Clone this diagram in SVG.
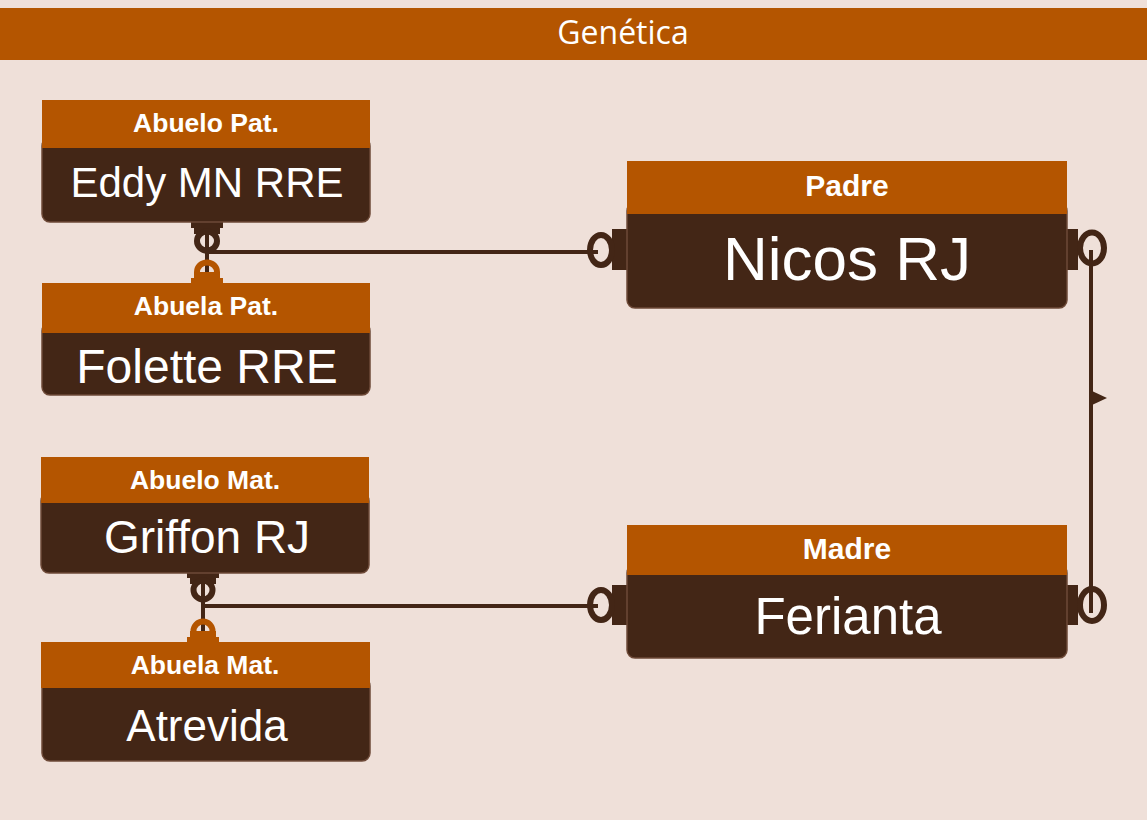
<svg xmlns="http://www.w3.org/2000/svg" width="1147" height="820" viewBox="0 0 1147 820">
<style>
.hdr{fill:#B45500}
.body{fill:#432616;stroke:#6e4a38;stroke-width:1.5}
.ht{font-family:"Liberation Sans",Arial,sans-serif;font-weight:bold;fill:#fff;text-anchor:middle}
.bt{font-family:"Liberation Sans",Arial,sans-serif;fill:#fff;text-anchor:middle}
.ln{stroke:#432616;stroke-width:4;fill:none}
.ring{fill:none;stroke:#432616;stroke-width:6}
.oring{fill:none;stroke:#B45500;stroke-width:6}
.tab{fill:#432616}
.otab{fill:#B45500}
</style>
<rect width="1147" height="820" fill="#EFE0D9"/>
<g id="title">
<rect x="0" y="8" width="1147" height="52" fill="#B45500"/>
<text x="623" y="44" font-family="'Open Sans','Noto Sans',sans-serif" font-size="32" fill="#fff" text-anchor="middle">Genética</text>
</g>
<g id="connectors">
<line class="ln" x1="207" y1="230" x2="207" y2="272"/>
<line class="ln" x1="207" y1="252" x2="598" y2="252"/>
<line class="ln" x1="203" y1="580" x2="203" y2="632"/>
<line class="ln" x1="203" y1="606" x2="598" y2="606"/>
<line class="ln" x1="1091" y1="250" x2="1091" y2="613"/>
<path d="M1092,391 L1107,398 L1092,405 Z" fill="#432616"/>
<!-- Eddy bottom -->
<path class="tab" d="M191,221 H223 V228 H220 V234 H194 V228 H191 Z"/>
<ellipse class="ring" cx="207" cy="241" rx="10" ry="9.5"/>
<!-- Folette top -->
<ellipse class="oring" cx="207" cy="272" rx="10" ry="9.5"/>
<path class="otab" d="M194,272 H220 V278 H223 V284 H191 V278 H194 Z"/>
<!-- Griffon bottom -->
<path class="tab" d="M187,572 H219 V578 H216 V584 H190 V578 H187 Z"/>
<ellipse class="ring" cx="203" cy="590" rx="9.5" ry="9.5"/>
<!-- Atrevida top -->
<ellipse class="oring" cx="203" cy="631" rx="9.5" ry="9.5"/>
<path class="otab" d="M190,631 H216 V637 H219 V643 H187 V637 H190 Z"/>
<!-- Padre left/right -->
<rect class="tab" x="612" y="229" width="16" height="41"/>
<ellipse class="ring" cx="601" cy="250" rx="11" ry="15"/>
<rect class="tab" x="1066" y="229" width="12" height="41"/>
<ellipse class="ring" cx="1092" cy="248" rx="12" ry="15.5"/>
<!-- Madre left/right -->
<rect class="tab" x="612" y="585" width="16" height="40"/>
<ellipse class="ring" cx="601" cy="605" rx="11" ry="15"/>
<rect class="tab" x="1066" y="585" width="12" height="40"/>
<ellipse class="ring" cx="1092" cy="605" rx="12" ry="16"/>
</g>
<g id="abuelo-pat">
<rect class="body" x="42" y="138" width="328" height="84" rx="8"/>
<rect class="hdr" x="42" y="100" width="328" height="48"/>
<text class="ht" x="206" y="132" font-size="26.5">Abuelo Pat.</text>
<text class="bt" x="207" y="197" font-size="42">Eddy MN RRE</text>
</g>
<g id="abuela-pat">
<rect class="body" x="42" y="323" width="328" height="72" rx="8"/>
<rect class="hdr" x="42" y="283" width="328" height="50"/>
<text class="ht" x="206" y="315" font-size="26.5">Abuela Pat.</text>
<text class="bt" x="207" y="383" font-size="48">Folette RRE</text>
</g>
<g id="abuelo-mat">
<rect class="body" x="41" y="493" width="328" height="80" rx="8"/>
<rect class="hdr" x="41" y="457" width="328" height="46"/>
<text class="ht" x="205" y="489" font-size="26.5">Abuelo Mat.</text>
<text class="bt" x="207" y="553" font-size="46">Griffon RJ</text>
</g>
<g id="abuela-mat">
<rect class="body" x="42" y="678" width="328" height="83" rx="8"/>
<rect class="hdr" x="41" y="642" width="329" height="46"/>
<text class="ht" x="205" y="674" font-size="26.5">Abuela Mat.</text>
<text class="bt" x="207" y="741" font-size="44">Atrevida</text>
</g>
<g id="padre">
<rect class="body" x="627" y="203" width="440" height="105" rx="8"/>
<rect class="hdr" x="627" y="161" width="440" height="53"/>
<text class="ht" x="847" y="196" font-size="30">Padre</text>
<text class="bt" x="847" y="280" font-size="62">Nicos RJ</text>
</g>
<g id="madre">
<rect class="body" x="627" y="565" width="440" height="93" rx="8"/>
<rect class="hdr" x="627" y="525" width="440" height="50"/>
<text class="ht" x="847" y="559" font-size="30">Madre</text>
<text class="bt" x="848" y="634" font-size="51">Ferianta</text>
</g>
</svg>
